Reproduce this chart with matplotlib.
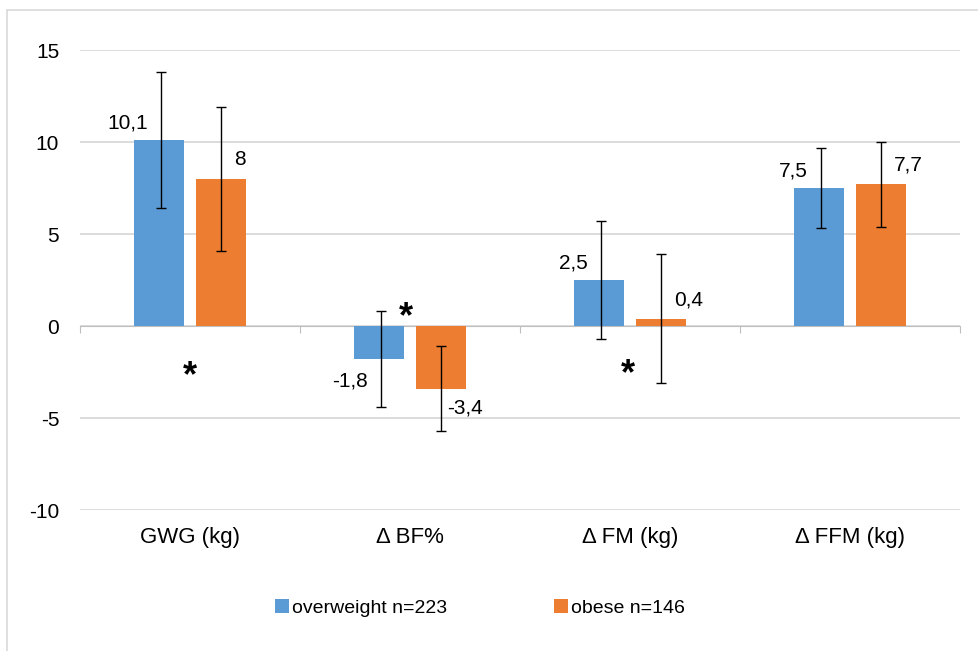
import numpy as np
import matplotlib
matplotlib.use("Agg")
import matplotlib.pyplot as plt
from matplotlib.patches import Rectangle

plt.rcParams['font.family'] = ['Liberation Sans', 'DejaVu Sans']
plt.rcParams['axes.unicode_minus'] = False

categories = ["GWG (kg)", "Δ BF%", "Δ FM (kg)", "Δ FFM (kg)"]
overweight = [10.1, -1.8, 2.5, 7.5]
obese = [8.0, -3.4, 0.4, 7.7]
overweight_err = [3.7, 2.6, 3.2, 2.2]
obese_err = [3.9, 2.3, 3.5, 2.3]
overweight_lbl = ["10,1", "-1,8", "2,5", "7,5"]
obese_lbl = ["8", "-3,4", "0,4", "7,7"]
star_x = [0, 0.98, 1.99]
star_y = [-2.4, 0.8, -2.3]

blue = "#5B9BD5"
orange = "#ED7D31"
grid_c = "#D9D9D9"

fig = plt.figure(figsize=(9.79, 6.51), dpi=100)
ax = fig.add_axes([80/979, 1-510/651, 880/979, 460/651])

# chart frame (cropped at right/bottom)
fig.patches.append(Rectangle((7/979, -0.1), 1.2, 1 - 10/651 + 0.1, transform=fig.transFigure,
                             fill=False, edgecolor=grid_c, linewidth=1.2))

x = np.arange(len(categories))
w = 0.223
off = 0.141

ax.bar(x - off, overweight, w, color=blue, label="overweight n=223", zorder=2)
ax.bar(x + off, obese, w, color=orange, label="obese n=146", zorder=2)
ax.errorbar(x - off + 0.01, overweight, yerr=overweight_err, fmt="none", ecolor="black",
            elinewidth=1, capsize=3.5, capthick=1, zorder=3)
ax.errorbar(x + off, obese, yerr=obese_err, fmt="none", ecolor="black",
            elinewidth=1, capsize=3.5, capthick=1, zorder=3)

for xi, v, s in zip(x, overweight, overweight_lbl):
    dy = 17 if v > 0 else -22
    ax.annotate(s, (xi - off - 0.05, v), xytext=(0, dy), textcoords="offset pixels",
                ha="right", va="center", fontsize=15)
for xi, v, s in zip(x, obese, obese_lbl):
    dy = 19 if v > 0 else -19
    dx = 0.06 if v > 0 else 0.03
    ax.annotate(s, (xi + off + dx, v), xytext=(0, dy), textcoords="offset pixels",
                ha="left", va="center", fontsize=15)

for sx, sy in zip(star_x, star_y):
    ax.text(sx, sy - 0.35, "*", ha="center", va="center", fontsize=26, fontweight="bold")

ax.set_ylim(-10, 15)
ax.set_xlim(-0.5, 3.5)
ax.set_yticks([-10, -5, 0, 5, 10, 15])
ax.yaxis.grid(True, color=grid_c, linewidth=1.3, zorder=0)
ax.set_axisbelow(True)
ax.tick_params(axis="y", length=0, pad=15, labelsize=15)

for sp in ["left", "right", "top"]:
    ax.spines[sp].set_visible(False)
ax.spines["bottom"].set_position(("data", 0))
ax.spines["bottom"].set_color("#BFBFBF")
ax.spines["bottom"].set_zorder(1)
ax.set_xticks(np.arange(-0.5, 4, 1))
ax.set_xticklabels([])
ax.tick_params(axis="x", direction="out", length=5, color="#BFBFBF")

for xi, c in zip(x, categories):
    ax.text(xi, -11.5, c, ha="center", va="center", fontsize=16)

ax.legend(loc="center", bbox_to_anchor=(480/979, 1-608/651), bbox_transform=fig.transFigure,
          ncol=2, frameon=False, fontsize=14, handlelength=0.7, handleheight=0.7,
          handletextpad=0.15, columnspacing=5.5)

fig.savefig("out.png", dpi=100)
